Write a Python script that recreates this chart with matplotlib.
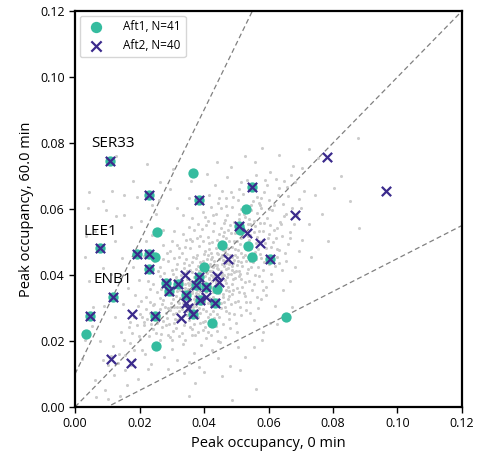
import numpy as np
import matplotlib
matplotlib.use("Agg")
import matplotlib.pyplot as plt

plt.rcParams['font.family'] = ['Open Sans', 'DejaVu Sans']

# Aft1 peaks (teal circles)
aft1_x = [0.0109, 0.0229, 0.0385, 0.0548, 0.0078, 0.0193, 0.0229, 0.0230, 0.0509, 0.0604,
          0.0119, 0.0047, 0.0248, 0.0282, 0.0320, 0.0292, 0.0385, 0.0375, 0.0405, 0.0343,
          0.0435, 0.0367, 0.0388,
          0.0365, 0.0255, 0.0248, 0.0457, 0.0529, 0.0512, 0.0537, 0.0549, 0.0400, 0.0439,
          0.0424, 0.0653, 0.0033, 0.0251]
aft1_y = [0.0745, 0.0642, 0.0627, 0.0668, 0.0483, 0.0464, 0.0464, 0.0419, 0.0548, 0.0449,
          0.0332, 0.0276, 0.0276, 0.0375, 0.0372, 0.0351, 0.0393, 0.0369, 0.0364, 0.0340,
          0.0315, 0.0282, 0.0324,
          0.0709, 0.0530, 0.0455, 0.0491, 0.0599, 0.0536, 0.0489, 0.0455, 0.0423, 0.0358,
          0.0254, 0.0272, 0.0221, 0.0185]

# Aft2 peaks (purple crosses)
aft2_x = [0.0109, 0.0229, 0.0385, 0.0548, 0.0078, 0.0193, 0.0229, 0.0230, 0.0509, 0.0604,
          0.0119, 0.0047, 0.0248, 0.0282, 0.0320, 0.0292, 0.0385, 0.0375, 0.0405, 0.0343,
          0.0435, 0.0367, 0.0388,
          0.0781, 0.0964, 0.0682, 0.0533, 0.0575, 0.0475, 0.0341, 0.0439, 0.0448, 0.0344,
          0.0350, 0.0405, 0.0329, 0.0177, 0.0112, 0.0173]
aft2_y = [0.0745, 0.0642, 0.0627, 0.0668, 0.0483, 0.0464, 0.0464, 0.0419, 0.0548, 0.0449,
          0.0332, 0.0276, 0.0276, 0.0375, 0.0372, 0.0351, 0.0393, 0.0369, 0.0364, 0.0340,
          0.0315, 0.0282, 0.0324,
          0.0758, 0.0654, 0.0581, 0.0527, 0.0498, 0.0448, 0.0400, 0.0397, 0.0379, 0.0316,
          0.0301, 0.0334, 0.0270, 0.0282, 0.0146, 0.0134]

gene_labels = ['SER33', 'LEE1', 'ENB1']
label_x = [0.0118, 0.0078, 0.0118]
label_y = [0.0797, 0.0533, 0.0385]

# all other peaks (grey background), units of 0.001
cloud = [
    (6.2, 8.3), (8.7, 14.1), (9.4, 5.2), (10.3, 12.6), (11.8, 18.4), (12.1, 9.7), (13.6, 16.2), (14.3, 22.8),
    (15.5, 11.1), (16.9, 19.4), (17.2, 25.7), (18.4, 14.3), (19.7, 21.5), (20.1, 28.2), (7.6, 19.9), (12.4, 27.3),
    (5.3, 24.6), (14.8, 31.2), (9.1, 30.5), (18.6, 33.8), (11.2, 40.3), (16.5, 36.1), (20.8, 17.4), (21.3, 24.9),
    (22.6, 11.5), (23.2, 31.7), (19.4, 8.6), (24.7, 19.2), (16.1, 6.8), (13.9, 3.4),
    (4.1, 60.2), (8.6, 62.4), (15.3, 64.1), (19.2, 63.5), (23.8, 61.3), (17.4, 54.6), (6.3, 53.2), (12.7, 57.8),
    (25.2, 58.4), (29.6, 66.1), (21.9, 50.3), (27.4, 53.7), (3.2, 45.5), (8.8, 42.1),
    (4.3, 65.1), (11.4, 65.3), (12.7, 76.2), (22.3, 73.6), (9.6, 59.8), (15.2, 58.3), (3.4, 51.7), (18.1, 68.4),
    (26.5, 68.2), (30.3, 72.1), (20.6, 56.4), (8.2, 48.7), (4.4, 38.3), (12.5, 50.2), (5.7, 30.4), (2.3, 14.6),
    (3.1, 20.2), (10.2, 2.4), (6.6, 3.1),
    (15.4, 15.7), (18.2, 17.3), (21.6, 16.1), (24.3, 18.9), (27.7, 15.2), (30.1, 17.6), (33.5, 19.2), (36.8, 16.4),
    (39.2, 18.7), (26.4, 20.3), (20.3, 20.6), (31.7, 14.1), (35.2, 13.5), (42.6, 17.3), (45.1, 19.8), (38.4, 12.2),
    (28.9, 11.6), (23.5, 13.1), (17.3, 12.8), (33.8, 10.4),
    (17.6, 22.3), (19.2, 24.7), (22.8, 21.4), (24.1, 23.6), (26.7, 22.2), (28.3, 24.9), (29.5, 21.1), (31.4, 23.8),
    (33.1, 22.5), (35.6, 24.2), (37.3, 21.7), (39.8, 23.3), (41.2, 22.6), (43.7, 24.4), (46.4, 21.2), (48.1, 23.9),
    (25.5, 25.3), (30.8, 25.6), (34.2, 20.4), (40.6, 20.8), (44.3, 20.1), (50.2, 22.7), (21.4, 25.8), (36.9, 25.1),
    (20.7, 27.4), (23.3, 28.6), (25.8, 26.2), (26.2, 29.7), (28.6, 27.1), (29.4, 29.3), (30.9, 26.8), (31.2, 28.5),
    (32.7, 30.2), (33.4, 27.6), (34.8, 29.1), (35.3, 26.4), (36.1, 28.8), (37.6, 30.5), (38.2, 27.3), (39.7, 29.6),
    (40.4, 26.1), (41.8, 28.2), (42.3, 30.7), (44.6, 27.4), (45.2, 29.9), (47.7, 26.6), (49.3, 28.1), (51.5, 27.8),
    (53.1, 29.4), (27.8, 30.3), (31.6, 26.3), (35.9, 30.8), (38.7, 25.4), (43.1, 26.9), (46.5, 30.2), (24.2, 30.9),
    (22.4, 26.7), (55.6, 26.3),
    (22.1, 33.4), (24.6, 31.2), (25.3, 34.7), (27.2, 32.5), (28.5, 35.3), (29.8, 31.6), (30.2, 33.9), (31.7, 35.1),
    (32.3, 31.4), (33.6, 34.2), (34.4, 32.8), (35.1, 35.6), (36.7, 31.3), (37.2, 33.7), (38.8, 35.2), (39.3, 32.1),
    (40.6, 34.8), (41.1, 31.5), (42.7, 33.3), (43.4, 35.9), (44.2, 32.6), (45.8, 34.1), (46.3, 31.8), (47.6, 33.5),
    (49.1, 35.4), (50.5, 32.2), (52.3, 34.6), (54.2, 31.9), (56.4, 33.2), (26.8, 35.8), (30.6, 30.4), (34.1, 30.7),
    (38.3, 30.1), (42.2, 31.2), (46.9, 35.3), (48.4, 31.1), (33.2, 32.7), (36.4, 34.4), (40.1, 31.9), (44.7, 34.5),
    (20.4, 32.2), (58.3, 35.6),
    (24.3, 37.2), (26.5, 39.6), (28.2, 36.4), (29.6, 38.7), (30.3, 40.2), (31.8, 36.6), (32.4, 38.3), (33.7, 40.5),
    (34.2, 36.1), (35.6, 38.4), (36.3, 40.8), (37.1, 36.7), (38.6, 38.2), (39.4, 40.4), (40.8, 36.3), (41.5, 38.9),
    (42.2, 40.1), (43.7, 37.5), (44.4, 39.2), (45.1, 36.8), (46.6, 38.6), (47.3, 40.3), (48.8, 37.4), (49.5, 39.1),
    (50.3, 36.2), (51.6, 38.8), (53.2, 40.6), (55.4, 37.3), (57.1, 39.7), (59.3, 36.5), (35.2, 36.9), (39.7, 37.1),
    (43.2, 39.6), (47.5, 36.4), (31.4, 39.3), (27.6, 40.7), (52.8, 37.9), (45.6, 40.6), (41.9, 36.1), (37.8, 39.5),
    (22.7, 38.1), (61.2, 38.3),
    (26.3, 42.4), (28.7, 44.1), (30.2, 41.6), (31.6, 43.3), (32.4, 45.5), (33.8, 42.2), (34.3, 44.7), (35.7, 41.4),
    (36.2, 43.8), (37.5, 45.2), (38.1, 42.6), (39.6, 44.3), (40.3, 41.7), (41.8, 43.4), (42.4, 45.6), (43.9, 42.1),
    (44.6, 44.8), (45.2, 41.3), (46.7, 43.5), (47.3, 45.1), (48.6, 42.8), (49.2, 44.4), (50.7, 41.2), (51.4, 43.9),
    (52.2, 45.4), (54.6, 42.3), (56.1, 44.7), (58.4, 41.6), (60.2, 43.2), (62.5, 45.3), (38.4, 40.7), (42.6, 41.3),
    (46.2, 45.8), (50.1, 45.6), (34.8, 41.1), (30.6, 45.2), (54.3, 44.1), (44.1, 42.9), (48.3, 40.2), (24.6, 44.3),
    (64.2, 41.5),
    (29.3, 47.4), (31.7, 49.2), (33.2, 46.6), (35.6, 48.3), (36.4, 50.2), (37.8, 46.1), (38.3, 48.7), (39.6, 50.4),
    (40.2, 47.3), (41.7, 49.6), (42.3, 46.8), (43.6, 48.2), (44.1, 50.7), (45.8, 47.5), (46.4, 49.1), (47.2, 46.3),
    (48.7, 48.6), (49.3, 50.2), (50.6, 47.7), (51.2, 49.4), (52.8, 46.2), (53.4, 48.9), (54.1, 50.5), (55.7, 47.1),
    (56.2, 49.8), (57.5, 46.4), (59.1, 48.2), (61.3, 50.1), (63.4, 47.6), (45.3, 45.4), (49.6, 46.2), (53.7, 45.3),
    (41.2, 46.1), (34.5, 50.6), (27.3, 49.2), (66.1, 49.4),
    (33.4, 52.3), (35.2, 54.6), (37.7, 51.2), (39.3, 53.8), (40.6, 55.1), (41.3, 51.6), (42.8, 53.2), (43.2, 55.7),
    (44.7, 52.4), (45.3, 54.1), (46.8, 51.3), (47.4, 53.6), (48.1, 55.2), (49.7, 52.8), (50.4, 54.3), (51.6, 51.1),
    (52.2, 53.5), (53.7, 55.4), (54.3, 52.2), (55.8, 54.7), (56.4, 51.5), (57.1, 53.3), (58.6, 55.8), (60.2, 52.4),
    (62.7, 54.2), (64.3, 51.7), (66.6, 53.1), (38.2, 55.4), (30.7, 53.3), (46.1, 55.9), (50.3, 50.4), (58.4, 50.6),
    (36.3, 57.4), (39.6, 59.2), (41.2, 56.3), (43.7, 58.6), (45.4, 60.3), (46.6, 56.7), (47.2, 58.1), (48.8, 60.6),
    (49.3, 56.2), (50.7, 58.4), (51.4, 60.1), (52.6, 57.7), (53.2, 59.3), (55.6, 56.4), (56.3, 58.8), (57.7, 60.2),
    (59.4, 57.3), (61.2, 59.6), (63.6, 56.1), (65.3, 58.4), (67.4, 60.3), (42.1, 60.7), (33.6, 58.2), (54.4, 55.3),
    (60.6, 55.2),
    (38.4, 62.2), (41.6, 64.3), (44.2, 61.7), (46.7, 63.4), (48.3, 65.2), (50.6, 62.8), (52.2, 64.6), (54.7, 61.3),
    (56.3, 63.7), (58.6, 65.1), (60.2, 62.6), (62.8, 64.2), (64.4, 61.5), (66.1, 63.8), (35.3, 63.2), (57.4, 61.1),
    (43.5, 67.3), (47.2, 69.6), (50.8, 66.2), (53.4, 68.7), (56.2, 70.3), (59.6, 67.4), (62.3, 69.1), (65.7, 66.6),
    (68.2, 68.3), (45.6, 65.4),
    (48.3, 72.6), (55.7, 74.2), (60.4, 71.3), (63.2, 76.5), (67.6, 73.1), (70.3, 72.4), (72.5, 78.2), (58.1, 78.6),
    (75.4, 75.3), (52.6, 76.1),
    (70.2, 60.4), (72.6, 55.3), (74.3, 64.2), (76.7, 58.6), (80.2, 66.3), (82.4, 70.1), (87.8, 81.6), (88.2, 54.3),
    (85.3, 62.4), (78.6, 50.2), (70.4, 50.7), (73.2, 45.6), (68.3, 42.4), (66.6, 38.2), (64.4, 35.3), (62.1, 30.6),
    (67.3, 30.2), (60.5, 25.4), (58.2, 22.6), (55.4, 18.3), (52.7, 15.1), (48.2, 12.4), (45.6, 9.3), (40.1, 10.6),
    (37.3, 7.2), (35.4, 3.3), (48.6, 2.1), (51.3, 11.2), (56.2, 5.4), (58.1, 20.3), (62.6, 25.2), (44.4, 14.7),
    (50.6, 18.2), (65.3, 44.1), (69.4, 47.3),
    (32.2, 29.1), (33.6, 31.4), (34.3, 33.2), (35.7, 32.3), (36.2, 35.1), (37.4, 34.6), (38.1, 36.3), (39.8, 35.4),
    (40.3, 37.8), (41.6, 39.2), (42.4, 38.1), (43.8, 40.4), (44.2, 41.7), (45.6, 43.2), (46.1, 42.6), (47.7, 44.3),
    (48.2, 46.1), (36.6, 30.2), (38.3, 33.6), (40.7, 33.1), (42.1, 36.4), (44.6, 37.2), (46.3, 40.1), (48.7, 41.4),
    (35.1, 37.6), (37.3, 38.2), (39.2, 41.3), (41.4, 42.6), (43.1, 44.2), (45.7, 46.1), (47.2, 48.3), (33.4, 35.2),
    (31.2, 33.6), (29.7, 30.3), (30.4, 32.7), (32.6, 35.4), (34.2, 37.3), (36.8, 39.4), (38.3, 41.1), (40.6, 43.2),
    (42.2, 44.7), (44.4, 46.5), (46.6, 47.2), (34.7, 31.2), (37.2, 31.7), (39.4, 34.3), (41.3, 35.6), (43.6, 38.3),
    (45.2, 38.7), (47.4, 42.2), (49.1, 43.6), (31.5, 30.4), (28.3, 28.6), (27.1, 31.3), (29.2, 34.4), (32.7, 33.1),
    (35.4, 34.8), (38.6, 37.2), (40.2, 39.7), (42.8, 42.3),
    # second pass over the dense band
    (25.9, 27.8), (27.4, 26.1), (28.8, 29.9), (30.5, 28.2), (31.9, 31.8), (33.1, 29.6), (34.6, 27.9), (35.8, 30.1),
    (36.9, 32.6), (37.9, 29.4), (39.1, 31.1), (40.5, 29.2), (41.7, 32.9), (42.9, 34.7), (43.3, 31.6), (44.8, 36.1),
    (45.9, 33.2), (46.8, 37.6), (47.9, 35.1), (48.9, 38.9), (49.8, 41.1), (50.9, 39.8), (51.8, 42.6), (52.9, 44.2),
    (53.6, 41.7), (54.9, 46.3), (55.3, 43.8), (56.8, 47.9), (57.6, 45.2), (58.9, 49.6), (59.8, 51.3), (60.9, 48.4),
    (61.6, 53.6), (62.4, 51.1), (63.9, 55.3), (64.8, 57.9), (26.3, 33.1), (27.9, 34.3), (28.1, 38.1), (29.9, 36.2),
    (30.9, 38.6), (31.3, 41.8), (32.8, 40.1), (33.9, 43.6), (34.9, 39.2), (35.4, 42.9), (36.7, 45.6), (37.6, 41.9),
    (38.9, 43.9), (39.9, 46.3), (40.9, 44.9), (41.4, 47.8), (42.6, 50.1), (43.9, 46.6), (44.8, 48.6), (45.9, 51.9),
    (46.2, 53.1), (47.8, 50.3), (48.4, 52.6), (49.9, 55.7), (50.8, 56.9), (51.9, 54.8), (52.4, 58.6), (53.9, 57.1),
    (54.6, 59.8), (55.2, 62.3), (56.9, 61.8), (57.8, 63.2), (29.1, 25.2), (30.4, 23.1), (32.1, 26.6), (33.9, 24.8),
    (35.1, 27.9), (36.4, 23.6), (37.7, 26.9), (38.9, 28.6), (39.6, 25.7), (41.1, 27.2), (42.8, 29.1), (43.9, 28.3),
    (45.4, 31.4), (46.8, 29.1), (47.4, 32.7), (48.6, 34.3), (49.7, 31.8), (50.8, 34.9), (51.9, 36.4), (52.6, 33.6),
    (53.8, 38.2), (54.8, 35.4), (55.9, 40.1), (56.6, 42.4), (57.9, 38.1), (58.7, 43.9), (59.9, 45.8), (33.3, 37.9),
    (34.9, 35.9), (36.1, 37.7), (37.9, 35.6), (38.7, 39.6), (39.3, 38.3), (40.9, 40.6), (41.9, 41.1), (42.7, 39.3),
    (43.5, 43.1), (44.9, 40.4), (45.8, 44.6), (46.9, 41.9), (47.9, 43.4), (48.8, 45.3), (49.6, 47.9), (50.6, 44.1),
    (51.5, 46.8), (52.7, 49.2), (53.6, 51.8), (54.7, 48.1), (55.5, 52.9), (56.9, 50.2), (57.3, 55.9), (58.3, 53.4),
    (31.1, 37.2), (32.9, 36.6), (34.6, 38.9), (36.6, 36.3), (38.2, 34.1), (39.9, 36.8), (41.8, 37.4), (43.4, 36.6),
    (44.3, 38.2), (45.6, 39.8), (46.4, 44.2), (47.1, 39.4), (48.1, 43.9), (49.4, 40.8), (50.2, 43.1), (51.1, 40.3),
    (24.8, 28.1), (23.7, 25.2), (25.1, 22.4), (27.1, 24.3), (28.7, 21.8), (30.2, 20.3), (32.4, 21.4), (34.1, 25.8),
    (36.3, 21.9), (38.1, 22.8), (40.2, 24.1), (42.3, 21.7), (44.1, 23.1), (45.9, 25.2), (47.6, 28.4), (49.9, 25.6),
    (51.2, 30.4), (52.9, 31.7), (54.4, 28.6), (56.7, 30.1), (57.8, 32.8), (59.2, 33.9), (60.8, 40.2), (61.9, 42.7),
    (62.7, 47.9), (63.3, 43.6), (65.1, 46.7), (66.8, 51.2), (67.9, 55.6), (68.8, 58.3), (69.6, 62.9), (70.9, 65.6),
    (60.1, 59.9), (61.7, 61.3), (63.1, 66.3), (64.9, 68.6), (66.9, 70.4), (58.8, 68.9), (55.1, 66.4), (51.6, 68.2),
    (49.1, 63.6), (46.9, 60.9), (44.6, 63.4), (42.7, 58.2), (40.4, 57.6), (38.8, 51.7), (36.9, 53.7), (35.8, 50.9),
    (34.1, 48.6), (32.4, 48.1), (30.2, 50.4), (28.6, 46.7), (27.2, 44.9), (25.8, 41.3), (23.4, 35.9), (21.9, 29.8),
    (19.6, 30.6), (18.3, 27.3), (16.7, 24.1), (15.1, 20.3), (13.4, 13.2), (11.1, 15.4), (17.9, 42.3), (14.6, 45.2),
    (21.3, 45.7), (23.8, 52.1), (19.8, 38.6), (26.1, 62.8), (31.6, 60.2), (35.9, 68.4), (40.8, 70.6), (44.1, 74.3),
]

teal = '#35bc9f'
purple = '#3b2a8c'

fig = plt.figure(figsize=(4.79, 4.58), dpi=100)
ax = fig.add_axes([0.1566, 0.1114, 0.8079, 0.8646])

cloud = np.array(cloud) / 1000.0
ax.scatter(cloud[:, 0], cloud[:, 1], s=5, color='#cccccc', linewidths=0, zorder=1)

# guide lines: y = 2x + 0.01, y = x, y = x/2 - 0.005
xs = np.array([0.0, 0.12])
ax.plot(xs, 2 * xs + 0.01, ls='--', color='#808080', lw=0.9, dashes=(4, 2.5), zorder=2)
ax.plot(xs, xs, ls='--', color='#808080', lw=0.9, dashes=(4, 2.5), zorder=2)
ax.plot(xs, 0.5 * xs - 0.005, ls='--', color='#808080', lw=0.9, dashes=(4, 2.5), zorder=2)

ax.scatter(aft1_x, aft1_y, s=55, color=teal, linewidths=0, label='Aft1, N=41', zorder=3)
ax.scatter(aft2_x, aft2_y, s=45, color=purple, marker='x', linewidths=1.6, label='Aft2, N=40', zorder=4)

for name, tx, ty in zip(gene_labels, label_x, label_y):
    ax.text(tx, ty, name, ha='center', va='center', fontsize=11)

ax.set_xlim(0, 0.12)
ax.set_ylim(0, 0.12)
ax.set_xticks(np.arange(0, 0.121, 0.02))
ax.set_yticks(np.arange(0, 0.121, 0.02))
ax.xaxis.set_major_formatter(matplotlib.ticker.FormatStrFormatter('%.2f'))
ax.yaxis.set_major_formatter(matplotlib.ticker.FormatStrFormatter('%.2f'))
ax.tick_params(labelsize=9, length=4, width=1)
for sp in ax.spines.values():
    sp.set_linewidth(1.6)

ax.set_xlabel('Peak occupancy, 0 min', fontsize=10.5)
ax.set_ylabel('Peak occupancy, 60.0 min', fontsize=10.5)

ax.legend(loc='upper left', fontsize=8.5, frameon=True, borderaxespad=0.4, handletextpad=1.3,
          markerscale=1.1)

fig.savefig('out.png', dpi=100)
